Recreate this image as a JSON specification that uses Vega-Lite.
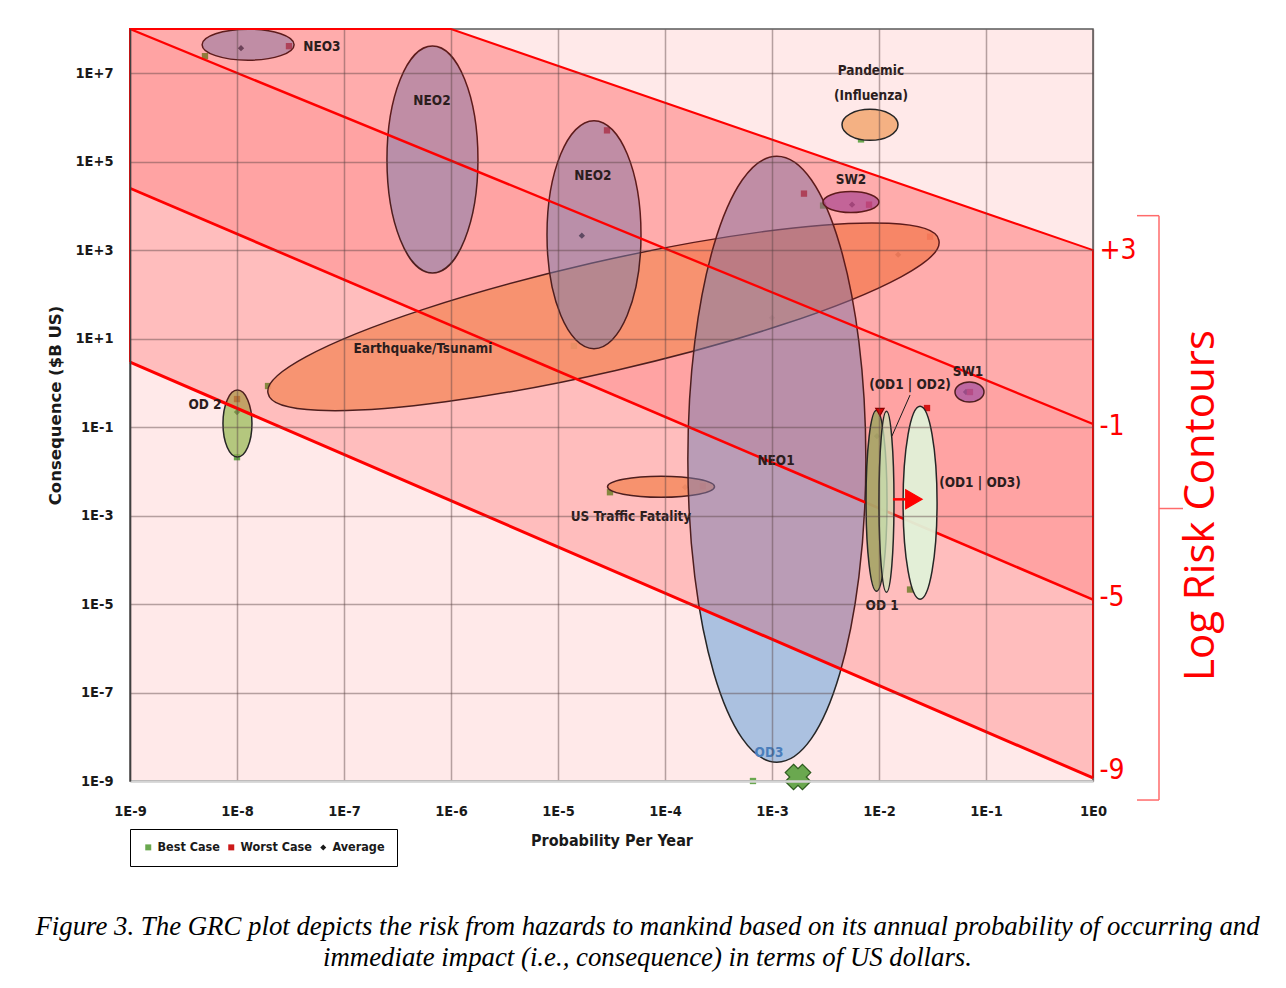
{
  "$schema": "https://vega.github.io/schema/vega-lite/v6.json",
  "width": 963,
  "height": 752,
  "autosize": "none",
  "padding": {"left": 130, "top": 29, "right": 193, "bottom": 207},
  "background": "white",
  "title": {
    "text": ["Figure 3. The GRC plot depicts the risk from hazards to mankind based on its annual probability of occurring and", "immediate impact (i.e., consequence) in terms of US dollars."],
    "orient": "bottom",
    "anchor": "middle",
    "font": "Liberation Serif, Times New Roman, serif",
    "fontStyle": "italic",
    "fontWeight": "normal",
    "fontSize": 26.8,
    "lineHeight": 31,
    "color": "#000000",
    "dx": 36,
    "offset": 47
  },
  "datasets": {
    "bands": [
      {"band": "U", "x": 1e-9, "y": 1e8, "y2": 25119},
      {"band": "U", "x": 1, "y": 0.1175, "y2": 1.259e-5},
      {"band": "A", "x": 1e-9, "y": 1e8, "y2": 2.951},
      {"band": "A", "x": 1e-6, "y": 1e8, "y2": 0.002173},
      {"band": "A", "x": 1, "y": 1000, "y2": 1.175e-9},
      {"band": "B", "x": 1e-9, "y": 1e8, "y2": 1e8},
      {"band": "B", "x": 1e-6, "y": 1e8, "y2": 105400},
      {"band": "B", "x": 1, "y": 1000, "y2": 0.1175}
    ],
    "lines": [
      {"line": "outline", "order": 1, "x": 1e-9, "y": 2.951},
      {"line": "outline", "order": 2, "x": 1e-9, "y": 1e8},
      {"line": "outline", "order": 3, "x": 1e-6, "y": 1e8},
      {"line": "outline", "order": 4, "x": 1, "y": 1000},
      {"line": "outline", "order": 5, "x": 1, "y": 1.175e-9},
      {"line": "m9", "order": 1, "x": 1, "y": 1.175e-9},
      {"line": "m9", "order": 2, "x": 1e-9, "y": 2.951},
      {"line": "m1", "order": 1, "x": 1e-9, "y": 1e8},
      {"line": "m1", "order": 2, "x": 1, "y": 0.1175},
      {"line": "m5", "order": 1, "x": 1e-9, "y": 25119},
      {"line": "m5", "order": 2, "x": 1, "y": 1.259e-5}
    ],
    "markers": [
      {"case": "Best Case", "x": 5.02e-9, "y": 2.43e7},
      {"case": "Average", "x": 1.09e-8, "y": 3.69e7},
      {"case": "Worst Case", "x": 3.06e-8, "y": 4.09e7},
      {"case": "Best Case", "x": 1.41e-5, "y": 6.85},
      {"case": "Average", "x": 1.67e-5, "y": 2130},
      {"case": "Worst Case", "x": 2.87e-5, "y": 511000},
      {"case": "Average", "x": 0.001, "y": 29.5},
      {"case": "Worst Case", "x": 0.00199, "y": 19000},
      {"case": "Best Case", "x": 0.000664, "y": 1e-9},
      {"case": "Best Case", "x": 1.95e-8, "y": 0.849},
      {"case": "Average", "x": 0.0151, "y": 791},
      {"case": "Worst Case", "x": 0.03, "y": 2020},
      {"case": "Best Case", "x": 0.00679, "y": 319000},
      {"case": "Average", "x": 0.00807, "y": 664000},
      {"case": "Worst Case", "x": 0.00938, "y": 1120000},
      {"case": "Best Case", "x": 0.003, "y": 10200},
      {"case": "Average", "x": 0.0056, "y": 10700},
      {"case": "Worst Case", "x": 0.00807, "y": 10700},
      {"case": "Average", "x": 0.065, "y": 0.621},
      {"case": "Worst Case", "x": 0.0708, "y": 0.621},
      {"case": "Worst Case", "x": 1e-8, "y": 0.431},
      {"case": "Average", "x": 1e-8, "y": 0.219},
      {"case": "Best Case", "x": 1e-8, "y": 0.0209},
      {"case": "Best Case", "x": 3.06e-5, "y": 0.00337},
      {"case": "Average", "x": 0.000154, "y": 0.00437},
      {"case": "Worst Case", "x": 0.000226, "y": 0.0046},
      {"case": "Average", "x": 0.00957, "y": 0.0625},
      {"case": "Best Case", "x": 0.0195, "y": 2.13e-5},
      {"case": "Worst Case", "x": 0.0281, "y": 0.27}
    ],
    "hazards": [
      {"name": "Earthquake/Tsunami", "x": 2.66e-5, "y": 31.1},
      {"name": "Pandemic (Influenza)", "x": 0.00824, "y": 681000},
      {"name": "US Traffic Fatality", "x": 9.18e-5, "y": 0.00449},
      {"name": "NEO2 high", "x": 6.71e-7, "y": 112000},
      {"name": "NEO2 mid", "x": 2.17e-5, "y": 2240},
      {"name": "NEO3", "x": 1.27e-8, "y": 4.43e7},
      {"name": "NEO1", "x": 0.00111, "y": 0.0188},
      {"name": "SW2", "x": 0.00547, "y": 12200},
      {"name": "SW1", "x": 0.0701, "y": 0.621},
      {"name": "OD2", "x": 1.01e-8, "y": 0.12}
    ],
    "odEllipses": [
      {"name": "OD1", "x": 0.00948, "y": 0.00216},
      {"name": "OD1|OD2", "x": 0.01175, "y": 0.00205},
      {"name": "OD1|OD3", "x": 0.0242, "y": 0.00195}
    ],
    "segments": [
      {"seg": "leader", "x": 0.0195, "y": 0.531, "x2": 0.0132, "y2": 0.0625},
      {"seg": "arrow", "x": 0.0135, "y": 0.00233, "x2": 0.0203, "y2": 0.00233}
    ],
    "symbols": [
      {"kind": "X", "x": 0.00175, "y": 1.23e-9},
      {"kind": "arrowhead", "x": 0.0212, "y": 0.00233},
      {"kind": "top", "x": 0.0102, "y": 0.219}
    ],
    "labels": [
      {"label": "NEO3", "x": 6.22e-8, "y": 3.88e7},
      {"label": "NEO2", "x": 6.64e-7, "y": 2.32e6},
      {"label": "NEO2", "x": 2.12e-5, "y": 46300},
      {"label": "NEO1", "x": 0.00109, "y": 0.0169},
      {"label": "Earthquake/Tsunami", "x": 5.47e-7, "y": 5.86},
      {"label": "Pandemic", "x": 0.00841, "y": 1.11e7},
      {"label": "(Influenza)", "x": 0.00841, "y": 3.01e6},
      {"label": "SW2", "x": 0.00547, "y": 39600},
      {"label": "SW1", "x": 0.0679, "y": 1.76},
      {"label": "OD 2", "x": 5.02e-9, "y": 0.315},
      {"label": "US Traffic Fatality", "x": 4.81e-5, "y": 0.000912},
      {"label": "(OD1 | OD2)", "x": 0.0195, "y": 0.895},
      {"label": "(OD1 | OD3)", "x": 0.0879, "y": 0.00538},
      {"label": "OD 1", "x": 0.0107, "y": 9.25e-6},
      {"label": "OD3", "x": 0.000938, "y": 4.31e-9}
    ],
    "bracketEnds": [{"y": 6026}, {"y": 3.715e-10}],
    "bracketMid": [{"y": 0.001445}],
    "bracketSpan": [{"y": 6026, "y2": 3.715e-10}]
  },
  "layer": [
    {
      "data": {"name": "bands"},
      "transform": [{"filter": "datum.band == 'U'"}],
      "mark": {"type": "area", "fill": "#ffc9c9", "opacity": 1},
      "encoding": {
        "x": {"field": "x", "type": "quantitative", "scale": {"type": "log", "domain": [1e-9, 1], "nice": false},
          "axis": {"values": [1e-9, 1e-8, 1e-7, 1e-6, 1e-5, 1e-4, 1e-3, 1e-2, 1e-1, 1], "labelExpr": "'1E' + round(log(datum.value)/LN10)", "title": "Probability Per Year", "grid": true, "ticks": false, "domain": true, "domainColor": "#d4d4d4", "domainWidth": 2.5, "labelPadding": 23, "titlePadding": 15, "labelFontSize": 14.5, "titleFontSize": 16, "titleFontWeight": "bold", "labelFlush": false, "labelOverlap": false, "labelBound": false, "zindex": 1}},
        "y": {"field": "y", "type": "quantitative", "scale": {"type": "log", "domain": [1e-9, 1e8], "nice": false},
          "axis": {"values": [1e-9, 1e-7, 1e-5, 1e-3, 1e-1, 10, 1000, 1e5, 1e7], "labelExpr": "(datum.value >= 1 ? '1E+' : '1E') + round(log(datum.value)/LN10)", "title": "Consequence ($B US)", "titleFont": "DejaVu Sans", "titleFontSize": 16.5, "titleFontWeight": "bold", "grid": true, "ticks": false, "domain": true, "domainColor": "#404040", "domainWidth": 1.5, "labelPadding": 17, "titlePadding": 12, "labelFontSize": 14.5, "labelOverlap": false, "labelBound": false, "labelFlush": false, "zindex": 1}},
        "y2": {"field": "y2"}
      }
    },
    {
      "data": {"name": "markers"},
      "mark": {"type": "point", "filled": true, "opacity": 1, "size": 40},
      "encoding": {
        "x": {"field": "x", "type": "quantitative", "scale": {"type": "log", "domain": [1e-9, 1], "nice": false}, "axis": null},
        "y": {"field": "y", "type": "quantitative", "scale": {"type": "log", "domain": [1e-9, 1e8], "nice": false}, "axis": null},
        "color": {"field": "case", "type": "nominal", "scale": {"domain": ["Best Case", "Worst Case", "Average"], "range": ["#6aa84f", "#cc1a1a", "#1a1a1a"]},
          "legend": {"title": null, "orient": "none", "legendX": 0, "legendY": 800, "direction": "horizontal", "strokeColor": "#000000", "padding": 12, "labelFont": "Liberation Sans Narrow, DejaVu Sans Condensed, sans-serif", "labelFontWeight": "bold", "labelFontSize": 12.5, "labelColor": "#1a1a1a", "symbolSize": 36, "columnPadding": 5, "labelOffset": 3}},
        "shape": {"field": "case", "type": "nominal", "scale": {"domain": ["Best Case", "Worst Case", "Average"], "range": ["square", "square", "diamond"]},
          "legend": {"title": null, "orient": "none", "legendX": 0, "legendY": 800, "direction": "horizontal", "strokeColor": "#000000", "padding": 12, "labelFont": "Liberation Sans Narrow, DejaVu Sans Condensed, sans-serif", "labelFontWeight": "bold", "labelFontSize": 12.5, "labelColor": "#1a1a1a", "symbolSize": 36, "columnPadding": 5, "labelOffset": 3}}
      }
    },
    {
      "data": {"name": "hazards"},
      "mark": {"type": "point", "filled": true, "size": 4, "opacity": 1, "stroke": "#262626", "strokeWidth": 1.5, "strokeOpacity": 1},
      "encoding": {
        "x": {"field": "x", "type": "quantitative", "scale": {"type": "log", "domain": [1e-9, 1], "nice": false}, "axis": null},
        "y": {"field": "y", "type": "quantitative", "scale": {"type": "log", "domain": [1e-9, 1e8], "nice": false}, "axis": null},
        "shape": {"field": "name", "type": "nominal", "legend": null, "scale": {
          "domain": ["Earthquake/Tsunami", "Pandemic (Influenza)", "US Traffic Fatality", "NEO2 high", "NEO2 mid", "NEO3", "NEO1", "SW2", "SW1", "OD2"],
          "range": [
            "M-335.3,76.8A344,54.4 -12.9 1,1 335.3,-76.8A344,54.4 -12.9 1,1 -335.3,76.8Z",
            "M-28,0A28,15.5 0 1,1 28,0A28,15.5 0 1,1 -28,0Z",
            "M-53.5,0A53.5,10.5 0 1,1 53.5,0A53.5,10.5 0 1,1 -53.5,0Z",
            "M-45.5,0A45.5,113.5 0 1,1 45.5,0A45.5,113.5 0 1,1 -45.5,0Z",
            "M-47,0A47,114 0 1,1 47,0A47,114 0 1,1 -47,0Z",
            "M-46,0A46,15.5 0 1,1 46,0A46,15.5 0 1,1 -46,0Z",
            "M-89,0A89,303 0 1,1 89,0A89,303 0 1,1 -89,0Z",
            "M-28,0A28,10.5 0 1,1 28,0A28,10.5 0 1,1 -28,0Z",
            "M-14.5,0A14.5,10 0 1,1 14.5,0A14.5,10 0 1,1 -14.5,0Z",
            "M-14.5,0A14.5,33.5 0 1,1 14.5,0A14.5,33.5 0 1,1 -14.5,0Z"
          ]}},
        "fill": {"field": "name", "type": "nominal", "legend": null, "scale": {
          "domain": ["Earthquake/Tsunami", "Pandemic (Influenza)", "US Traffic Fatality", "NEO2 high", "NEO2 mid", "NEO3", "NEO1", "SW2", "SW1", "OD2"],
          "range": ["rgba(244,177,131,0.9)", "rgba(244,177,131,1)", "rgba(244,177,131,0.95)", "rgba(87,153,215,0.5)", "rgba(87,153,215,0.5)", "rgba(87,153,215,0.5)", "rgba(87,153,215,0.5)", "rgba(155,111,200,0.8)", "rgba(155,111,200,0.8)", "rgba(155,187,89,0.75)"]}}
      }
    },
    {
      "data": {"name": "bands"},
      "transform": [{"filter": "datum.band == 'A'"}],
      "mark": {"type": "area", "fill": "#ff0000", "fillOpacity": 0.19},
      "encoding": {
        "x": {"field": "x", "type": "quantitative", "scale": {"type": "log", "domain": [1e-9, 1], "nice": false}, "axis": null},
        "y": {"field": "y", "type": "quantitative", "scale": {"type": "log", "domain": [1e-9, 1e8], "nice": false}, "axis": null},
        "y2": {"field": "y2"}
      }
    },
    {
      "data": {"name": "bands"},
      "transform": [{"filter": "datum.band == 'B'"}],
      "mark": {"type": "area", "fill": "#ff0000", "fillOpacity": 0.09},
      "encoding": {
        "x": {"field": "x", "type": "quantitative", "scale": {"type": "log", "domain": [1e-9, 1], "nice": false}, "axis": null},
        "y": {"field": "y", "type": "quantitative", "scale": {"type": "log", "domain": [1e-9, 1e8], "nice": false}, "axis": null},
        "y2": {"field": "y2"}
      }
    },
    {
      "data": {"name": "lines"},
      "mark": {"type": "line", "color": "#ff0000"},
      "encoding": {
        "x": {"field": "x", "type": "quantitative", "scale": {"type": "log", "domain": [1e-9, 1], "nice": false}, "axis": null},
        "y": {"field": "y", "type": "quantitative", "scale": {"type": "log", "domain": [1e-9, 1e8], "nice": false}, "axis": null},
        "order": {"field": "order", "type": "quantitative"},
        "strokeWidth": {"field": "line", "type": "nominal", "legend": null, "scale": {"domain": ["outline", "m1", "m5", "m9"], "range": [2, 3, 2.2, 1.2]}}
      }
    },
    {
      "data": {"name": "odEllipses"},
      "mark": {"type": "point", "filled": true, "size": 4, "opacity": 1, "stroke": "#262626", "strokeWidth": 1.5, "strokeOpacity": 1},
      "encoding": {
        "x": {"field": "x", "type": "quantitative", "scale": {"type": "log", "domain": [1e-9, 1], "nice": false}, "axis": null},
        "y": {"field": "y", "type": "quantitative", "scale": {"type": "log", "domain": [1e-9, 1e8], "nice": false}, "axis": null},
        "shape": {"field": "name", "type": "nominal", "legend": null, "scale": {
          "domain": ["OD1", "OD1|OD2", "OD1|OD3"],
          "range": [
            "M-10.5,0A10.5,90.5 0 1,1 10.5,0A10.5,90.5 0 1,1 -10.5,0Z",
            "M-7.5,0A7.5,90.5 0 1,1 7.5,0A7.5,90.5 0 1,1 -7.5,0Z",
            "M-17,0A17,96.5 0 1,1 17,0A17,96.5 0 1,1 -17,0Z"
          ]}},
        "fill": {"field": "name", "type": "nominal", "legend": null, "scale": {"domain": ["OD1", "OD1|OD2", "OD1|OD3"], "range": ["rgba(170,165,105,0.95)", "rgba(205,230,185,0.75)", "rgba(226,241,216,0.95)"]}}
      }
    },
    {
      "data": {"name": "segments"},
      "mark": {"type": "rule"},
      "encoding": {
        "x": {"field": "x", "type": "quantitative", "scale": {"type": "log", "domain": [1e-9, 1], "nice": false}, "axis": null},
        "y": {"field": "y", "type": "quantitative", "scale": {"type": "log", "domain": [1e-9, 1e8], "nice": false}, "axis": null},
        "x2": {"field": "x2"},
        "y2": {"field": "y2"},
        "color": {"field": "seg", "type": "nominal", "legend": null, "scale": {"domain": ["leader", "arrow"], "range": ["#1a1a1a", "#ff0000"]}},
        "strokeWidth": {"field": "seg", "type": "nominal", "legend": null, "scale": {"domain": ["leader", "arrow"], "range": [1, 2.5]}}
      }
    },
    {
      "data": {"name": "symbols"},
      "mark": {"type": "point", "filled": true, "opacity": 1, "strokeWidth": 1.2},
      "encoding": {
        "x": {"field": "x", "type": "quantitative", "scale": {"type": "log", "domain": [1e-9, 1], "nice": false}, "axis": null},
        "y": {"field": "y", "type": "quantitative", "scale": {"type": "log", "domain": [1e-9, 1e8], "nice": false}, "axis": null},
        "shape": {"field": "kind", "type": "nominal", "legend": null, "scale": {"domain": ["X", "arrowhead", "top"], "range": ["M-0.35,-1L0,-0.65L0.35,-1L1,-0.35L0.65,0L1,0.35L0.35,1L0,0.65L-0.35,1L-1,0.35L-0.65,0L-1,-0.35Z", "triangle-right", "triangle-down"]}},
        "fill": {"field": "kind", "type": "nominal", "legend": null, "scale": {"domain": ["X", "arrowhead", "top"], "range": ["#6aa84f", "#ff0000", "#e00000"]}},
        "stroke": {"field": "kind", "type": "nominal", "legend": null, "scale": {"domain": ["X", "arrowhead", "top"], "range": ["#2d5a1e", "#ff0000", "#8b0000"]}},
        "size": {"field": "kind", "type": "nominal", "legend": null, "scale": {"domain": ["X", "arrowhead", "top"], "range": [650, 70, 70]}}
      }
    },
    {
      "data": {"name": "labels"},
      "mark": {"type": "text", "font": "Liberation Sans Narrow, DejaVu Sans Condensed, sans-serif", "fontWeight": "bold", "fontSize": 13.5, "align": "center", "baseline": "middle"},
      "encoding": {
        "x": {"field": "x", "type": "quantitative", "scale": {"type": "log", "domain": [1e-9, 1], "nice": false}, "axis": null},
        "y": {"field": "y", "type": "quantitative", "scale": {"type": "log", "domain": [1e-9, 1e8], "nice": false}, "axis": null},
        "text": {"field": "label"},
        "color": {"condition": {"test": "datum.label == 'OD3'", "value": "#4a7ebb"}, "value": "#2b1d1d"}
      }
    },
    {
      "data": {"name": "bracketEnds"},
      "mark": {"type": "rule", "color": "#ff6b6b", "strokeWidth": 1.5, "xOffset": 44, "x2Offset": 66},
      "encoding": {
        "x": {"datum": 1, "type": "quantitative", "scale": {"type": "log", "domain": [1e-9, 1], "nice": false}, "axis": null},
        "x2": {"datum": 1},
        "y": {"field": "y", "type": "quantitative", "scale": {"type": "log", "domain": [1e-9, 1e8], "nice": false}, "axis": null}
      }
    },
    {
      "data": {"name": "bracketMid"},
      "mark": {"type": "rule", "color": "#ff6b6b", "strokeWidth": 1.5, "xOffset": 66, "x2Offset": 90},
      "encoding": {
        "x": {"datum": 1, "type": "quantitative", "scale": {"type": "log", "domain": [1e-9, 1], "nice": false}, "axis": null},
        "x2": {"datum": 1},
        "y": {"field": "y", "type": "quantitative", "scale": {"type": "log", "domain": [1e-9, 1e8], "nice": false}, "axis": null}
      }
    },
    {
      "data": {"name": "bracketSpan"},
      "mark": {"type": "rule", "color": "#ff6b6b", "strokeWidth": 1.5, "xOffset": 66},
      "encoding": {
        "x": {"datum": 1, "type": "quantitative", "scale": {"type": "log", "domain": [1e-9, 1], "nice": false}, "axis": null},
        "y": {"field": "y", "type": "quantitative", "scale": {"type": "log", "domain": [1e-9, 1e8], "nice": false},
          "axis": {"orient": "right", "values": [1000, 0.105, 1.4e-5, 1.77e-9], "labelExpr": "datum.value > 1 ? '+3' : (datum.value > 0.01 ? '-1' : (datum.value > 1e-7 ? '-5' : '-9'))", "labelColor": "#ff0000", "labelFont": "Liberation Sans Narrow, DejaVu Sans Condensed, sans-serif", "labelFontWeight": "normal", "labelFontSize": 28, "labelPadding": 6, "labelOverlap": false, "labelBound": false, "labelFlush": false, "grid": false, "ticks": false, "domain": false, "title": "Log Risk Contours", "titleColor": "#ff0000", "titleFont": "Open Sans, Liberation Sans, sans-serif", "titleFontWeight": "normal", "titleFontSize": 42, "titleAngle": 270, "titlePadding": 86, "titleY": 476}},
        "y2": {"field": "y2"}
      }
    }
  ],
  "resolve": {
    "scale": {"shape": "independent", "fill": "independent", "color": "independent", "strokeWidth": "independent", "stroke": "independent", "size": "independent"},
    "axis": {"x": "independent", "y": "independent"}
  },
  "config": {
    "view": {"fill": "#ffe9e9", "stroke": "#5a5a5a", "strokeWidth": 1.5},
    "axis": {"labelFont": "Liberation Sans Narrow, DejaVu Sans Condensed, sans-serif", "labelFontWeight": "bold", "labelColor": "#1a1a1a", "titleFont": "Liberation Sans Narrow, DejaVu Sans Condensed, sans-serif", "titleColor": "#1a1a1a", "gridColor": "#5a4545", "gridOpacity": 0.45, "gridWidth": 1.5}
  }
}
